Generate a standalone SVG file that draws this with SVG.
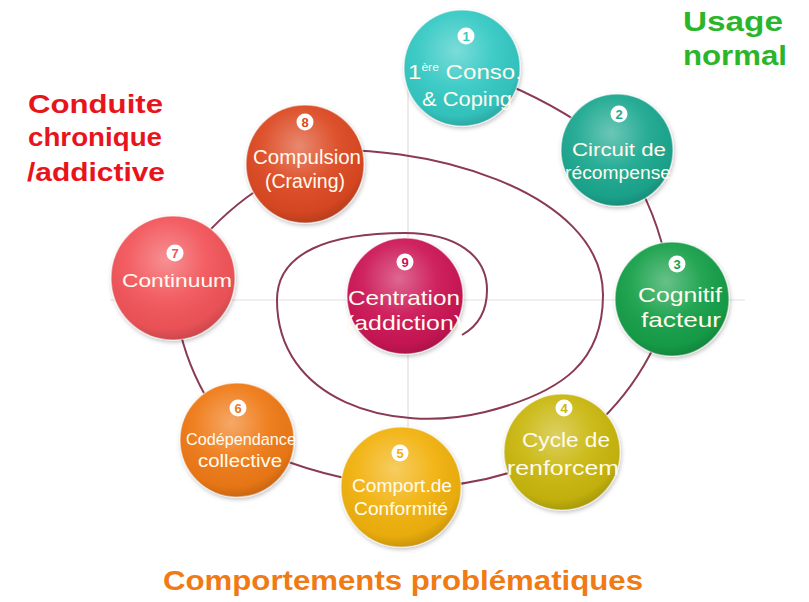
<svg xmlns="http://www.w3.org/2000/svg" width="809" height="602" viewBox="0 0 809 602">
<defs>
<radialGradient id="shine" cx="0.45" cy="0.35" r="0.7">
<stop offset="0" stop-color="#fff" stop-opacity="0.35"/>
<stop offset="0.45" stop-color="#fff" stop-opacity="0.06"/>
<stop offset="0.8" stop-color="#000" stop-opacity="0.04"/>
<stop offset="1" stop-color="#000" stop-opacity="0.22"/>
</radialGradient>
<filter id="sh" x="-20%" y="-20%" width="140%" height="140%">
<feDropShadow dx="1" dy="2" stdDeviation="2" flood-color="#000" flood-opacity="0.25"/>
</filter>
<style>
.ball{filter:url(#sh);stroke:#fff;stroke-opacity:0.5;stroke-width:1.5}
.gl{fill:url(#shine)}
.lbl{font-family:"Liberation Sans",Arial,sans-serif;fill:#fffbee;text-anchor:middle}
.badge{fill:#fff}
.num{font-family:"Liberation Sans",Arial,sans-serif;font-weight:bold;font-size:13px;text-anchor:middle}
.corner{font-family:"Liberation Sans",Arial,sans-serif;font-weight:bold}
.spiral{fill:none;stroke:#8a3a52;stroke-width:2}
.axis{stroke:#e6dede;stroke-width:1.2}
</style>
</defs>
<rect width="809" height="602" fill="#fff"/>
<g id="axes">
<line class="axis" x1="408" y1="55" x2="408" y2="545"/>
<line class="axis" x1="110" y1="300" x2="745" y2="300"/>
</g>
<g id="connectors">
<path class="spiral" d="M462 68 Q548 95 617 150 Q664 215 672 299 Q645 395 562 452 Q484 490 401 487 Q312 478 237 440 Q176 370 173 278 Q222 200 305 164"/>
<path class="spiral" d="M305 152 C420 140 603 190 603 295 C603 360 565 392 485 412 C390 435 277 400 277 300 C277 252 330 233 405 233 C455 233 487 255 487 290 C487 312 478 326 462 335"/>
</g>
<g id="node1">
<circle class="ball" cx="462" cy="68" r="58" fill="#35c9c4"/><circle class="gl" cx="462" cy="68" r="58"/>
<circle class="badge" cx="466" cy="36" r="8.5"/><text class="num" x="466" y="41" fill="#35c9c4">1</text>
<text class="lbl" x="465" y="79" font-size="20" textLength="114" lengthAdjust="spacingAndGlyphs">1<tspan font-size="10" dy="-8">ère</tspan><tspan dy="8"> Conso.</tspan></text>
<text class="lbl" x="467" y="106" font-size="20" textLength="90" lengthAdjust="spacingAndGlyphs">&amp; Coping</text>
</g>
<g id="node2">
<circle class="ball" cx="617" cy="150" r="56" fill="#1ea890"/><circle class="gl" cx="617" cy="150" r="56"/>
<circle class="badge" cx="619" cy="114" r="8.5"/><text class="num" x="619" y="119" fill="#1ea890">2</text>
<text class="lbl" x="619" y="156" font-size="18" textLength="94" lengthAdjust="spacingAndGlyphs">Circuit de</text>
<text class="lbl" x="618" y="179" font-size="18" textLength="106" lengthAdjust="spacingAndGlyphs">récompense</text>
</g>
<g id="node3">
<circle class="ball" cx="672" cy="299" r="57" fill="#17a04a"/><circle class="gl" cx="672" cy="299" r="57"/>
<circle class="badge" cx="677" cy="264" r="8.5"/><text class="num" x="677" y="269" fill="#17a04a">3</text>
<text class="lbl" x="680" y="302" font-size="21" textLength="84" lengthAdjust="spacingAndGlyphs">Cognitif</text>
<text class="lbl" x="681" y="327" font-size="21" textLength="80" lengthAdjust="spacingAndGlyphs">facteur</text>
</g>
<g id="node4">
<circle class="ball" cx="562" cy="452" r="58" fill="#c9b70a"/><circle class="gl" cx="562" cy="452" r="58"/>
<circle class="badge" cx="564" cy="408" r="8.5"/><text class="num" x="564" y="413" fill="#c9b70a">4</text>
<text class="lbl" x="566" y="447" font-size="20" textLength="88" lengthAdjust="spacingAndGlyphs">Cycle de</text>
<text class="lbl" x="563" y="475" font-size="20" textLength="112" lengthAdjust="spacingAndGlyphs">renforcem</text>
</g>
<g id="node5">
<circle class="ball" cx="401" cy="487" r="60" fill="#f2b20c"/><circle class="gl" cx="401" cy="487" r="60"/>
<circle class="badge" cx="400" cy="453" r="8.5"/><text class="num" x="400" y="458" fill="#f2b20c">5</text>
<text class="lbl" x="402" y="492" font-size="18" textLength="100" lengthAdjust="spacingAndGlyphs">Comport.de</text>
<text class="lbl" x="401" y="515" font-size="18" textLength="94" lengthAdjust="spacingAndGlyphs">Conformité</text>
</g>
<g id="node6">
<circle class="ball" cx="237" cy="440" r="57" fill="#ef7a17"/><circle class="gl" cx="237" cy="440" r="57"/>
<circle class="badge" cx="238" cy="408" r="8.5"/><text class="num" x="238" y="413" fill="#ef7a17">6</text>
<text class="lbl" x="241" y="445" font-size="16" textLength="110" lengthAdjust="spacingAndGlyphs">Codépendance</text>
<text class="lbl" x="240" y="467" font-size="18" textLength="84" lengthAdjust="spacingAndGlyphs">collective</text>
</g>
<g id="node7">
<circle class="ball" cx="173" cy="278" r="62" fill="#f2555a"/><circle class="gl" cx="173" cy="278" r="62"/>
<circle class="badge" cx="175" cy="253" r="8.5"/><text class="num" x="175" y="258" fill="#f2555a">7</text>
<text class="lbl" x="177" y="287" font-size="19" textLength="110" lengthAdjust="spacingAndGlyphs">Continuum</text>
</g>
<g id="node8">
<circle class="ball" cx="305" cy="164" r="59" fill="#dc4a22"/><circle class="gl" cx="305" cy="164" r="59"/>
<circle class="badge" cx="305" cy="122" r="8.5"/><text class="num" x="305" y="127" fill="#dc4a22">8</text>
<text class="lbl" x="307" y="164" font-size="20" textLength="108" lengthAdjust="spacingAndGlyphs">Compulsion</text>
<text class="lbl" x="305" y="188" font-size="20" textLength="80" lengthAdjust="spacingAndGlyphs">(Craving)</text>
</g>
<g id="node9">
<circle class="ball" cx="405" cy="296" r="58" fill="#cc1257"/><circle class="gl" cx="405" cy="296" r="58"/>
<circle class="badge" cx="405" cy="262" r="8.5"/><text class="num" x="405" y="267" fill="#cc1257">9</text>
<text class="lbl" x="404" y="305" font-size="21" textLength="112" lengthAdjust="spacingAndGlyphs">Centration</text>
<text class="lbl" x="404" y="330" font-size="21" textLength="116" lengthAdjust="spacingAndGlyphs">(addiction)</text>
</g>
<g id="labels">
<text class="corner" x="733" y="31" font-size="28" fill="#2ab52a" text-anchor="middle" textLength="100" lengthAdjust="spacingAndGlyphs">Usage</text>
<text class="corner" x="735" y="65" font-size="28" fill="#2ab52a" text-anchor="middle" textLength="104" lengthAdjust="spacingAndGlyphs">normal</text>
<text class="corner" x="28" y="113" font-size="26" fill="#e8141c" textLength="135" lengthAdjust="spacingAndGlyphs">Conduite</text>
<text class="corner" x="28" y="146" font-size="26" fill="#e8141c" textLength="134" lengthAdjust="spacingAndGlyphs">chronique</text>
<text class="corner" x="27" y="181" font-size="26" fill="#e8141c" textLength="138" lengthAdjust="spacingAndGlyphs">/addictive</text>
<text class="corner" x="163" y="590" font-size="27" fill="#f07a14" textLength="480" lengthAdjust="spacingAndGlyphs">Comportements problématiques</text>
</g>
</svg>
